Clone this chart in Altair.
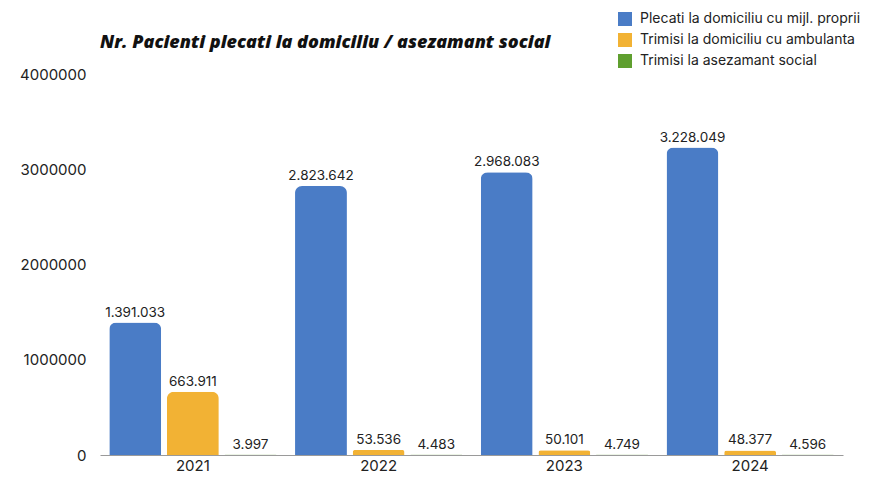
import altair as alt
import pandas as pd

years = ["2021", "2022", "2023", "2024"]
series = [
    "Plecati la domiciliu cu mijl. proprii",
    "Trimisi la domiciliu cu ambulanta",
    "Trimisi la asezamant social",
]
proprii = [1391033, 2823642, 2968083, 3228049]
ambulanta = [663911, 53536, 50101, 48377]
social = [3997, 4483, 4749, 4596]
colors = ["#4a7cc6", "#f2b234", "#5f9f2f"]
y_ticks = [0, 1000000, 2000000, 3000000, 4000000]
title_text = "Nr. Pacienti plecati la domiciliu / asezamant social"

rows = []
for s, vals in zip(series, [proprii, ambulanta, social]):
    for y, v in zip(years, vals):
        rows.append({"year": y, "series": s, "value": v,
                     "label": f"{v:,}".replace(",", ".")})
df = pd.DataFrame(rows)

FONT = "Inter"

base = alt.Chart(df).encode(
    x=alt.X("year:N", sort=years,
            scale=alt.Scale(paddingInner=0.1, paddingOuter=0.05),
            axis=alt.Axis(title=None, labelAngle=0, ticks=False,
                          domainColor="#9a9a9a", domainWidth=1,
                          labelFontSize=15, labelColor="#222",
                          labelFont=FONT, labelPadding=3)),
    xOffset=alt.XOffset("series:N", sort=series,
                        scale=alt.Scale(paddingInner=0.1)),
    y=alt.Y("value:Q",
            scale=alt.Scale(domain=[0, 4000000], nice=False),
            axis=alt.Axis(title=None, values=y_ticks, format="d",
                          grid=False, domain=False, ticks=False,
                          labelFontSize=15, labelColor="#222",
                          labelFont=FONT, labelPadding=14)),
)

bars = base.mark_bar(cornerRadiusTopLeft=7, cornerRadiusTopRight=7).encode(
    color=alt.Color("series:N", sort=series,
                    scale=alt.Scale(domain=series, range=colors),
                    legend=alt.Legend(title=None, orient="none",
                                      legendX=518, legendY=-62,
                                      symbolType="square", symbolSize=196,
                                      symbolStrokeWidth=0, labelLimit=400,
                                      labelFontSize=14, labelFont=FONT,
                                      labelColor="#222", rowPadding=7,
                                      labelOffset=8)),
)

labels = base.mark_text(baseline="bottom", dy=-3, fontSize=13.5,
                        font=FONT, color="#222").encode(text="label:N")

title = alt.Chart(pd.DataFrame({"t": [title_text]})).mark_text(
    align="left", baseline="middle", fontSize=18, fontWeight=800,
    fontStyle="italic", font="Open Sans", color="#111",
).encode(text="t:N", x=alt.value(0), y=alt.value(-31))

chart = (bars + labels + title).properties(
    width=743,
    height=381,
    padding={"left": 92, "top": 66, "right": 19, "bottom": 20},
    autosize=alt.AutoSizeParams(type="none"),
).configure(background="white").configure_view(stroke="transparent", strokeWidth=0)

chart.save("out.html", embed_options={"renderer": "svg", "actions": False})
